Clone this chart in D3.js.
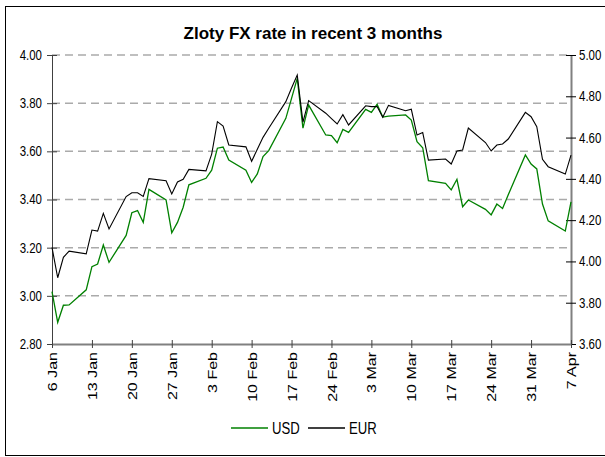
<!DOCTYPE html>
<html>
<head>
<meta charset="utf-8">
<script src="https://cdn.jsdelivr.net/npm/d3@7"></script>
<style>
  body { margin: 0; background: #fff; }
  svg { display: block; }
  text { font-family: "Liberation Sans", Arial, sans-serif; }
</style>
</head>
<body>
<svg id="chart" width="605" height="457"></svg>
<script>
// Zloty against USD (left axis) and EUR (right axis), business days
const dates = [
  "2009-01-06", "2009-01-07", "2009-01-08", "2009-01-09",
  "2009-01-12", "2009-01-13", "2009-01-14", "2009-01-15", "2009-01-16",
  "2009-01-19", "2009-01-20", "2009-01-21", "2009-01-22", "2009-01-23",
  "2009-01-26", "2009-01-27", "2009-01-28", "2009-01-29", "2009-01-30",
  "2009-02-02", "2009-02-03", "2009-02-04", "2009-02-05", "2009-02-06",
  "2009-02-09", "2009-02-10", "2009-02-11", "2009-02-12", "2009-02-13",
  "2009-02-16", "2009-02-17", "2009-02-18", "2009-02-19", "2009-02-20",
  "2009-02-23", "2009-02-24", "2009-02-25", "2009-02-26", "2009-02-27",
  "2009-03-02", "2009-03-03", "2009-03-04", "2009-03-05", "2009-03-06",
  "2009-03-09", "2009-03-10", "2009-03-11", "2009-03-12", "2009-03-13",
  "2009-03-16", "2009-03-17", "2009-03-18", "2009-03-19", "2009-03-20",
  "2009-03-23", "2009-03-24", "2009-03-25", "2009-03-26", "2009-03-27",
  "2009-03-30", "2009-03-31", "2009-04-01", "2009-04-02", "2009-04-03",
  "2009-04-06", "2009-04-07"
];

const usd = [
  3.017, 2.890, 2.961, 2.962,
  3.025, 3.121, 3.132, 3.211, 3.139,
  3.251, 3.345, 3.354, 3.305, 3.442,
  3.398, 3.262, 3.305, 3.368, 3.461,
  3.488, 3.522, 3.613, 3.618, 3.564,
  3.522, 3.471, 3.506, 3.578, 3.603,
  3.737, 3.820, 3.903, 3.696, 3.792,
  3.668, 3.665, 3.636, 3.691, 3.679,
  3.774, 3.762, 3.795, 3.742, 3.746,
  3.751, 3.730, 3.640, 3.615, 3.478,
  3.467, 3.440, 3.484, 3.370, 3.398,
  3.359, 3.336, 3.381, 3.363, 3.420,
  3.585, 3.547, 3.527, 3.381, 3.311,
  3.269, 3.390
];

const eur = [
  4.068, 3.921, 4.020, 4.050,
  4.037, 4.152, 4.147, 4.233, 4.157,
  4.314, 4.333, 4.333, 4.315, 4.401,
  4.391, 4.327, 4.385, 4.398, 4.446,
  4.439, 4.520, 4.677, 4.656, 4.564,
  4.555, 4.485, 4.543, 4.601, 4.645,
  4.774, 4.840, 4.903, 4.675, 4.779,
  4.718, 4.692, 4.666, 4.711, 4.661,
  4.754, 4.750, 4.750, 4.698, 4.756,
  4.730, 4.737, 4.612, 4.624, 4.491,
  4.496, 4.472, 4.535, 4.540, 4.646,
  4.576, 4.535, 4.564, 4.569, 4.593,
  4.722, 4.701, 4.653, 4.495, 4.459,
  4.423, 4.515
];

const xTickLabels = ["6 Jan", "13 Jan", "20 Jan", "27 Jan", "3 Feb", "10 Feb", "17 Feb",
  "24 Feb", "3 Mar", "10 Mar", "17 Mar", "24 Mar", "31 Mar", "7 Apr"];
const leftTicks = [2.80, 3.00, 3.20, 3.40, 3.60, 3.80, 4.00];
const rightTicks = [3.60, 3.80, 4.00, 4.20, 4.40, 4.60, 4.80, 5.00];

const title = "Zloty FX rate in recent 3 months";
const seriesNames = ["USD", "EUR"];
const seriesColors = ["#008000", "#000000"];

// Plot area
const plotLeft = 52, plotRight = 571, plotTop = 55, plotBottom = 344;
// the source uses a condensed face; squeeze the installed sans to match
const narrowFactor = 0.82;

function narrow(selection) {
    selection.each(function () {
        const w = this.getComputedTextLength();
        d3.select(this)
            .attr("textLength", w * narrowFactor)
            .attr("lengthAdjust", "spacingAndGlyphs");
    });
}

const parseDate = d3.timeParse("%Y-%m-%d");
const parseTick = d3.timeParse("%d %b %Y");
const xDates = dates.map(parseDate);
const tickDates = xTickLabels.map(t => parseTick(t + " 2009"));

const x = d3.scaleTime()
    .domain([tickDates[0], tickDates[tickDates.length - 1]])
    .range([plotLeft, plotRight]);
const yLeft = d3.scaleLinear().domain([2.8, 4.0]).range([plotBottom, plotTop]);
const yRight = d3.scaleLinear().domain([3.6, 5.0]).range([plotBottom, plotTop]);

const svg = d3.select("#chart");

// Chart border
svg.append("rect")
    .attr("x", 5.5).attr("y", 6.5)
    .attr("width", 605).attr("height", 449)
    .attr("fill", "none").attr("stroke", "#000").attr("stroke-width", 1);

svg.append("text")
    .attr("x", 313).attr("y", 39)
    .attr("text-anchor", "middle")
    .style("font-weight", "bold")
    .style("font-size", "17px")
    .text(title);

// Dashed gridlines follow the left axis
svg.append("g")
    .selectAll("line")
    .data(leftTicks.filter(v => v > 2.8))
    .enter()
    .append("line")
    .attr("x1", plotLeft).attr("x2", plotRight)
    .attr("y1", d => yLeft(d)).attr("y2", d => yLeft(d))
    .attr("stroke", "#aaaaaa")
    .attr("stroke-width", 1.5)
    .attr("stroke-dasharray", "8,5");

// Left axis
const gLeft = svg.append("g")
    .attr("transform", `translate(${plotLeft},0)`)
    .call(d3.axisLeft(yLeft).tickValues(leftTicks).tickFormat(d3.format(".2f"))
        .tickSizeInner(5).tickSizeOuter(0).tickPadding(5));
gLeft.select(".domain").attr("stroke", "#404040");
gLeft.selectAll(".tick line").attr("x1", 5).attr("stroke", "#404040");
gLeft.selectAll(".tick text").style("font-size", "14px").attr("fill", "#000").call(narrow);

// Right axis
const gRight = svg.append("g")
    .attr("transform", `translate(${plotRight},0)`)
    .call(d3.axisRight(yRight).tickValues(rightTicks).tickFormat(d3.format(".2f"))
        .tickSizeInner(5).tickSizeOuter(0).tickPadding(3));
gRight.select(".domain").attr("stroke", "#808080").attr("stroke-width", 2);
gRight.selectAll(".tick line").attr("x1", -5).attr("stroke", "#000");
gRight.selectAll(".tick text").style("font-size", "14px").attr("fill", "#000").call(narrow);

// Bottom axis
const gBottom = svg.append("g")
    .attr("transform", `translate(0,${plotBottom})`)
    .call(d3.axisBottom(x).tickValues(tickDates).tickFormat((d, i) => xTickLabels[i])
        .tickSizeInner(4).tickSizeOuter(0));
gBottom.select(".domain").attr("stroke", "#808080").attr("stroke-width", 2);
gBottom.selectAll(".tick line").attr("y1", -4).attr("stroke", "#404040");
gBottom.selectAll(".tick text")
    .style("font-size", "16px")
    .attr("fill", "#000")
    .attr("transform", `scale(${narrowFactor},1) rotate(-90)`)
    .attr("text-anchor", "end")
    .attr("x", -8).attr("y", 0).attr("dy", "0.35em");

// Series lines
const series = [usd, eur];
const scales = [yLeft, yRight];
series.forEach((values, s) => {
    const line = d3.line()
        .x((d, i) => x(xDates[i]))
        .y(d => scales[s](d));
    svg.append("path")
        .datum(values)
        .attr("d", line)
        .attr("fill", "none")
        .attr("stroke", seriesColors[s])
        .attr("stroke-width", s === 0 ? 1.3 : 1.1);
});

// Legend
const legend = svg.append("g").attr("transform", "translate(231,428)");
const legendX = [0, 77];
seriesNames.forEach((name, s) => {
    legend.append("line")
        .attr("x1", legendX[s]).attr("x2", legendX[s] + 37)
        .attr("y1", 0).attr("y2", 0)
        .attr("stroke", seriesColors[s]).attr("stroke-width", 1.3);
    legend.append("text")
        .attr("x", legendX[s] + 41).attr("y", 6)
        .style("font-size", "16px")
        .text(name)
        .call(narrow);
});
</script>
</body>
</html>
